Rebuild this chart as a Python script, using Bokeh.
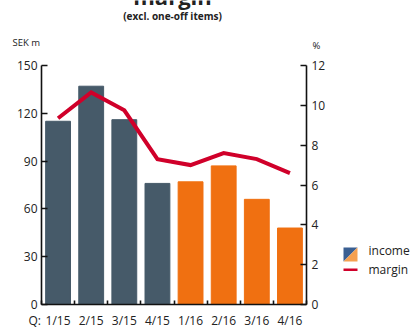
from bokeh.plotting import figure
from bokeh.models import Range1d, LinearAxis, FixedTicker, Label, PolyAnnotation
from bokeh.embed import file_html
from bokeh.resources import INLINE

quarters = ["1/15", "2/15", "3/15", "4/15", "1/16", "2/16", "3/16", "4/16"]
income = [115, 137, 116, 76, 77, 87, 66, 48]
margin = [9.35, 10.65, 9.75, 7.3, 7.0, 7.6, 7.3, 6.6]
left_ticks = [0, 30, 60, 90, 120, 150]
right_ticks = [0, 2, 4, 6, 8, 10, 12]

year_colors = {"15": "#465a69", "16": "#f07011"}
colors = [year_colors[q.split("/")[1]] for q in quarters]
xs = list(range(1, len(quarters) + 1))

FONT = "Open Sans"
W, H = 411, 327
# chart area in canvas pixels
FL, FR, FT, FB = 41, 306, 65, 304
N = len(quarters)
LMAX, RMAX = 150, 12

# the frame covers the whole canvas; ranges are extended so that the
# chart area lands where the reference has it
xpx = (FR - FL) / N
ypx = (FB - FT) / LMAX
rpx = (FB - FT) / RMAX
x_range = Range1d(0.5 - FL / xpx, N + 0.5 + (W - FR) / xpx)
y_range = Range1d(-(H - FB) / ypx, LMAX + FT / ypx)
pct_range = Range1d(-(H - FB) / rpx, RMAX + FT / rpx)

p = figure(width=W, height=H, x_range=x_range, y_range=y_range,
           output_backend="svg", toolbar_location=None,
           min_border_left=0, min_border_right=0, min_border_top=0,
           min_border_bottom=0, x_axis_type=None, y_axis_type=None)
p.extra_y_ranges = {"pct": pct_range}
p.grid.visible = False
p.outline_line_color = None
p.background_fill_color = "white"
p.border_fill_color = "white"

p.vbar(x=xs, top=income, width=0.75, color=colors)
p.line(xs, margin, y_range_name="pct", line_width=4, color="#d0002a",
       line_join="miter")

xa = LinearAxis(fixed_location=0, bounds=(0.5, N + 0.5),
                ticker=FixedTicker(ticks=xs, minor_ticks=[x + 0.5 for x in range(N + 1)]))
xa.major_label_overrides = {x: q for x, q in zip(xs, quarters)}
xa.major_tick_line_color = None
xa.major_tick_in = 0
xa.major_tick_out = 0
xa.minor_tick_in = 4
xa.minor_tick_out = 0
xa.minor_tick_line_width = 1.6
xa.minor_tick_line_color = "#111111"
xa.major_label_standoff = 7
p.add_layout(xa, "below")

ya = LinearAxis(fixed_location=0.5, bounds=(0, LMAX), ticker=FixedTicker(ticks=left_ticks))
ya.major_tick_in = 6
ya.major_tick_out = 0
ya.minor_tick_line_color = None
ya.major_label_standoff = 4
p.add_layout(ya, "left")

ra = LinearAxis(fixed_location=N + 0.5, bounds=(0, RMAX), y_range_name="pct",
                ticker=FixedTicker(ticks=right_ticks))
ra.major_tick_in = 6
ra.major_tick_out = 0
ra.minor_tick_line_color = None
ra.major_label_standoff = 5
p.add_layout(ra, "right")

for ax in [xa, ya, ra]:
    ax.axis_line_width = 1.6
    ax.axis_line_color = "#111111"
    if ax is not xa:
        ax.major_tick_line_width = 1.6
        ax.major_tick_line_color = "#111111"
    ax.major_label_text_font = FONT
    ax.major_label_text_font_size = "12px"
    ax.major_label_text_color = "#222222"

# pixel -> data helpers (for annotation placement only)
def dx(px):
    return x_range.start + px / xpx

def dy(py):
    return y_range.end - py / ypx

def lab(text, px, py, size, align="left", bold=False):
    p.add_layout(Label(x=dx(px), y=dy(py), text=text, text_font=FONT,
                       text_font_size=size, text_align=align,
                       text_baseline="middle", text_color="#222222",
                       text_font_style="bold" if bold else "normal"))

lab("margin", 172, -5, "22px", align="center", bold=True)
lab("(excl. one-off items)", 172, 15.5, "10px", align="center", bold=True)
lab("SEK m", 12, 42, "9.5px")
lab("%", 316, 45, "9.5px", align="center")
lab("Q:", 28, 319.5, "12px")

# legend
p.add_layout(PolyAnnotation(xs=[dx(343), dx(357), dx(343)], ys=[dy(247), dy(247), dy(261)],
                            fill_color="#3a5f92", fill_alpha=1, line_color=None))
p.add_layout(PolyAnnotation(xs=[dx(357), dx(357), dx(343)], ys=[dy(247), dy(261), dy(261)],
                            fill_color="#f5a050", fill_alpha=1, line_color=None))
p.add_layout(PolyAnnotation(xs=[dx(343), dx(357), dx(357), dx(343)],
                            ys=[dy(268), dy(268), dy(270.5), dy(270.5)],
                            fill_color="#d0002a", fill_alpha=1, line_color=None))
lab("income", 368, 250, "12px")
lab("margin", 368, 268.5, "12px")

open("out.html", "w").write(file_html(p, INLINE))
